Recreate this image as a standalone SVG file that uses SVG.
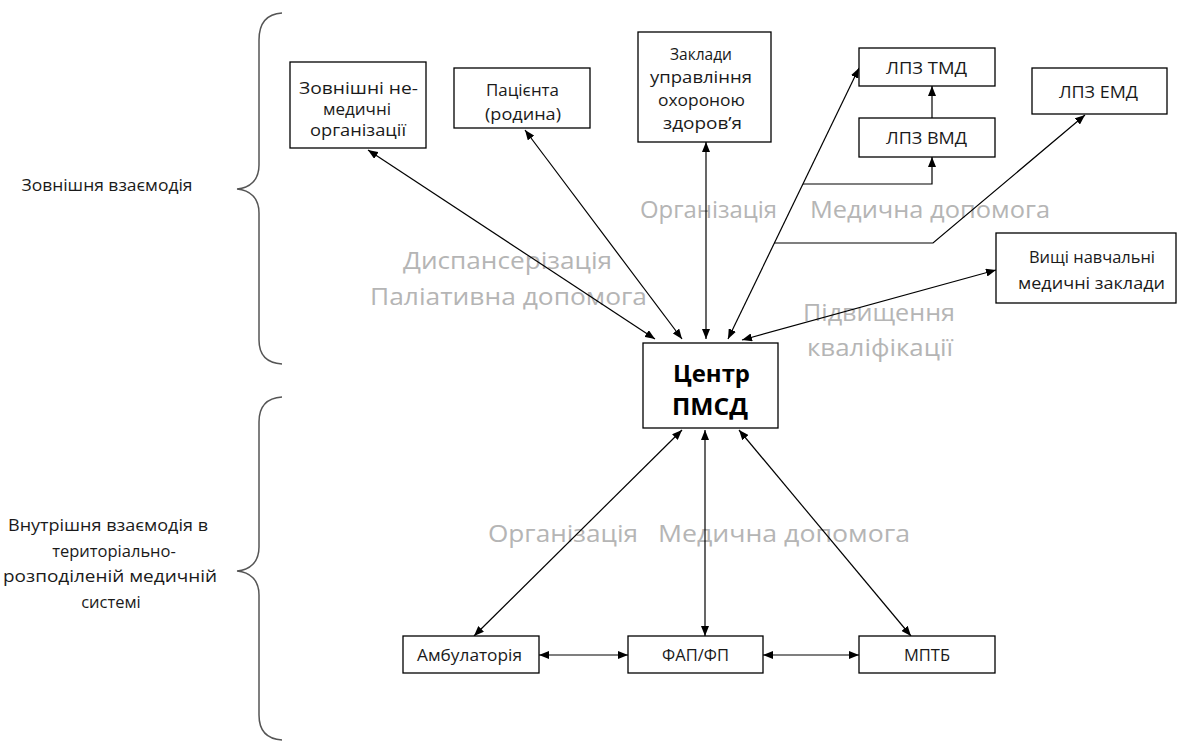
<svg xmlns="http://www.w3.org/2000/svg" width="1178" height="742" viewBox="0 0 1178 742">
<style>
.bg{fill:#fff}
.box{fill:#fff;stroke:#000;stroke-width:1.3}
.t{font-family:"Open Sans","Liberation Sans",sans-serif;font-size:16.5px;fill:#1a1a1a}
.m{text-anchor:middle}
.c{font-family:"Open Sans","Liberation Sans",sans-serif;font-size:24px;font-weight:bold;fill:#000}
.g{font-family:"Open Sans","Liberation Sans",sans-serif;font-size:23px;fill:#b5b5b5}
.brace{fill:none;stroke:#555;stroke-width:1.5}
.ln{fill:none;stroke:#000;stroke-width:1.2}
</style>
<defs>
<marker id="ah" viewBox="0 0 10 8" refX="10" refY="4" markerWidth="10" markerHeight="8" markerUnits="userSpaceOnUse" orient="auto-start-reverse">
<path d="M0,0 L10,4 L0,8 z" fill="#000"/>
</marker>
</defs>
<rect class="bg" x="0" y="0" width="1178" height="742"/>

<g id="braces">
<path class="brace" d="M282,13 C266,14 259,24 259,40 L259,165 C259,180 250,188 237,189 C250,190 259,198 259,213 L259,340 C259,355 266,363 282,364"/>
<path class="brace" d="M282,397 C266,398 259,407 259,422 L259,547 C259,562 250,570 237,571 C250,572 259,580 259,595 L259,715 C259,730 266,739 282,740"/>
</g>

<g id="side-labels">
<text class="t m" x="107" y="191" textLength="171" lengthAdjust="spacingAndGlyphs">Зовнішня взаємодія</text>
<text class="t m" x="108" y="531" textLength="200" lengthAdjust="spacingAndGlyphs">Внутрішня взаємодія в</text>
<text class="t m" x="114" y="557">територіально-</text>
<text class="t m" x="110" y="582" textLength="214" lengthAdjust="spacingAndGlyphs">розподіленій медичній</text>
<text class="t m" x="111" y="608">системі</text>
</g>

<g id="flow-labels">
<text class="g" x="640" y="218" textLength="137" lengthAdjust="spacingAndGlyphs">Організація</text>
<text class="g" x="810" y="218" textLength="240" lengthAdjust="spacingAndGlyphs">Медична допомога</text>
<text class="g" x="403" y="269" textLength="209" lengthAdjust="spacingAndGlyphs">Диспансерізація</text>
<text class="g" x="370" y="305" textLength="277" lengthAdjust="spacingAndGlyphs">Паліативна допомога</text>
<text class="g" x="803" y="321" textLength="152" lengthAdjust="spacingAndGlyphs">Підвищення</text>
<text class="g" x="807" y="356" textLength="146" lengthAdjust="spacingAndGlyphs">кваліфікації</text>
<text class="g" x="488" y="542" textLength="150" lengthAdjust="spacingAndGlyphs">Організація</text>
<text class="g" x="658" y="542" textLength="252" lengthAdjust="spacingAndGlyphs">Медична допомога</text>
</g>

<g id="connectors">
<line class="ln" x1="368" y1="150" x2="655" y2="339" marker-start="url(#ah)" marker-end="url(#ah)"/>
<line class="ln" x1="525" y1="130" x2="682" y2="339" marker-start="url(#ah)" marker-end="url(#ah)"/>
<line class="ln" x1="706" y1="142" x2="706" y2="339" marker-start="url(#ah)" marker-end="url(#ah)"/>
<line class="ln" x1="859" y1="68" x2="728" y2="339" marker-start="url(#ah)" marker-end="url(#ah)"/>
<line class="ln" x1="996" y1="270" x2="742" y2="340" marker-start="url(#ah)" marker-end="url(#ah)"/>
<polyline class="ln" points="803,184 932,184 932,157" marker-end="url(#ah)"/>
<polyline class="ln" points="774,243 933,243 1085,115" marker-end="url(#ah)"/>
<line class="ln" x1="932" y1="118" x2="932" y2="86" marker-end="url(#ah)"/>
<line class="ln" x1="682" y1="430" x2="474" y2="636" marker-start="url(#ah)" marker-end="url(#ah)"/>
<line class="ln" x1="705" y1="430" x2="705" y2="636" marker-start="url(#ah)" marker-end="url(#ah)"/>
<line class="ln" x1="739" y1="430" x2="911" y2="636" marker-start="url(#ah)" marker-end="url(#ah)"/>
<line class="ln" x1="539" y1="655" x2="628" y2="655" marker-start="url(#ah)" marker-end="url(#ah)"/>
<line class="ln" x1="763" y1="655" x2="859" y2="655" marker-start="url(#ah)" marker-end="url(#ah)"/>
</g>

<g id="n-zovnishni">
<rect class="box" x="290" y="62" width="136" height="86"/>
<text class="t" x="299" y="94" textLength="119" lengthAdjust="spacingAndGlyphs">Зовнішні не-</text>
<text class="t" x="323" y="115" textLength="68" lengthAdjust="spacingAndGlyphs">медичні</text>
<text class="t" x="310" y="136" textLength="96" lengthAdjust="spacingAndGlyphs">організації</text>
</g>
<g id="n-patsienta">
<rect class="box" x="454" y="68" width="136" height="60"/>
<text class="t" x="486" y="96" textLength="73" lengthAdjust="spacingAndGlyphs">Пацієнта</text>
<text class="t" x="485" y="120" textLength="76" lengthAdjust="spacingAndGlyphs">(родина)</text>
</g>
<g id="n-zaklady">
<rect class="box" x="638" y="32" width="133" height="110"/>
<text class="t" x="670" y="60" textLength="62" lengthAdjust="spacingAndGlyphs">Заклади</text>
<text class="t" x="650" y="83" textLength="102" lengthAdjust="spacingAndGlyphs">управління</text>
<text class="t" x="658" y="106" textLength="87" lengthAdjust="spacingAndGlyphs">охороною</text>
<text class="t" x="663" y="129" textLength="79" lengthAdjust="spacingAndGlyphs">здоров’я</text>
</g>
<g id="n-tmd">
<rect class="box" x="859" y="48" width="136" height="38"/>
<text class="t" x="886" y="74" textLength="81" lengthAdjust="spacingAndGlyphs">ЛПЗ ТМД</text>
</g>
<g id="n-vmd">
<rect class="box" x="859" y="118" width="136" height="39"/>
<text class="t" x="886" y="144" textLength="81" lengthAdjust="spacingAndGlyphs">ЛПЗ ВМД</text>
</g>
<g id="n-emd">
<rect class="box" x="1032" y="68" width="135" height="46"/>
<text class="t" x="1059" y="98" textLength="79" lengthAdjust="spacingAndGlyphs">ЛПЗ ЕМД</text>
</g>
<g id="n-vyshchi">
<rect class="box" x="996" y="233" width="180" height="70"/>
<text class="t" x="1029" y="263" textLength="126" lengthAdjust="spacingAndGlyphs">Вищі навчальні</text>
<text class="t" x="1018" y="289" textLength="147" lengthAdjust="spacingAndGlyphs">медичні заклади</text>
</g>
<g id="n-tsentr">
<rect class="box" x="643" y="343" width="135" height="85"/>
<text class="c" x="673" y="382" textLength="77" lengthAdjust="spacingAndGlyphs">Центр</text>
<text class="c" x="672" y="415" textLength="76" lengthAdjust="spacingAndGlyphs">ПМСД</text>
</g>
<g id="n-ambul">
<rect class="box" x="403" y="636" width="136" height="37"/>
<text class="t" x="417" y="661" textLength="105" lengthAdjust="spacingAndGlyphs">Амбулаторія</text>
</g>
<g id="n-fap">
<rect class="box" x="628" y="636" width="135" height="37"/>
<text class="t m" x="695.5" y="661">ФАП/ФП</text>
</g>
<g id="n-mptb">
<rect class="box" x="859" y="636" width="136" height="37"/>
<text class="t m" x="927" y="661">МПТБ</text>
</g>
</svg>
